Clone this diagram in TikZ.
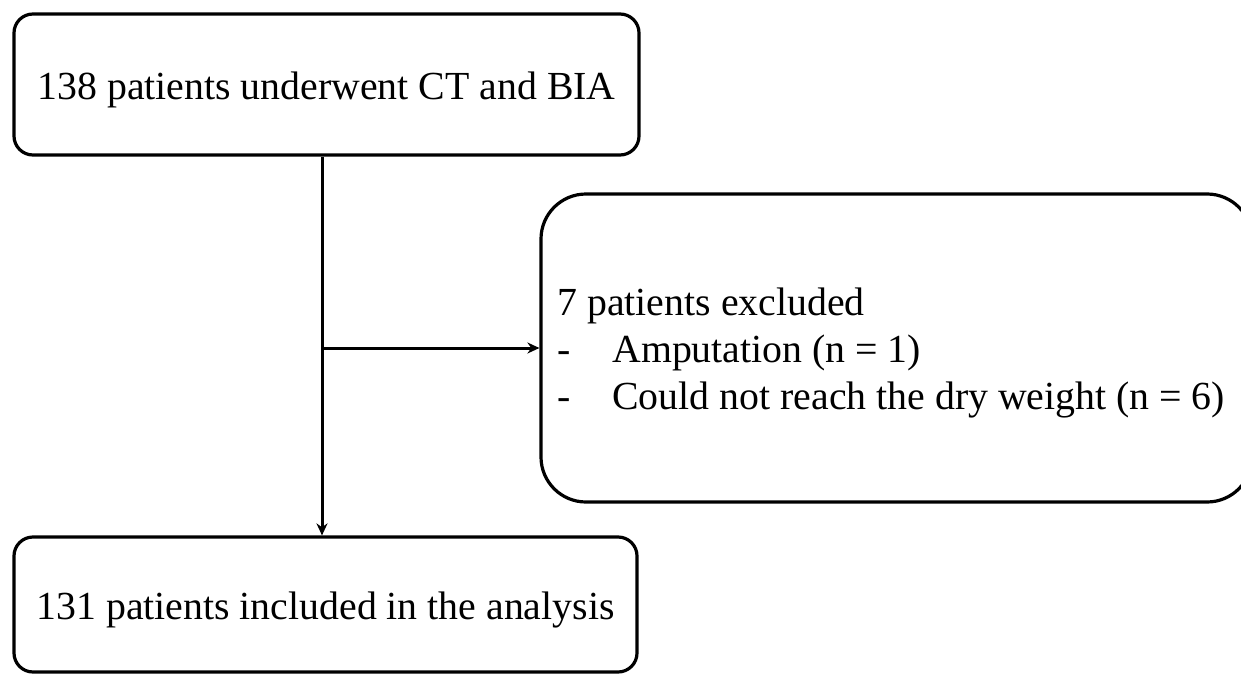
\documentclass[tikz,border=0pt]{standalone}
\usepackage{fontspec}
\setmainfont{Liberation Serif}
\usepackage{tikz}
\usetikzlibrary{arrows.meta}

\begin{document}
\begin{tikzpicture}[x=0.5pt, y=-0.5pt, >=Stealth,
    flowbox/.style={draw, line width=1.6pt, rounded corners=9.5pt, inner sep=0pt,
      text height=15pt, text depth=0pt},
    flowline/.style={line width=1.5pt, -{Stealth[length=6pt, width=5.5pt]}}]
  \useasboundingbox (0,0) rectangle (1241,674);
  \fontsize{19.9pt}{23.5pt}\selectfont
  % Boxes
  \node[flowbox, minimum width=312.5pt, minimum height=70.5pt] (start) at (326.5,84.5)
    {138 patients underwent CT and BIA};
  \node[flowbox, minimum width=311.5pt, minimum height=67.5pt] (final) at (325.5,604.5)
    {131 patients included in the analysis};
  \node[draw, line width=1.6pt, rounded corners=22.5pt, minimum width=355.5pt, minimum height=154pt] (excl) at (896.5,348) {};
  % Text of the exclusion box
  \node[anchor=west, align=left, inner sep=0pt] (excltext) at (557,352.5)
    {7 patients excluded\\
     \makebox[27.5pt][l]{-}Amputation (n = 1)\\
     \makebox[27.5pt][l]{-}Could not reach the dry weight (n = 6)};
  % Connectors
  \coordinate (split) at (322,348);
  \draw[flowline] (start.south -| split) -- (final.north -| split);
  \draw[flowline] (split) -- (excl.west |- split);
\end{tikzpicture}
\end{document}
